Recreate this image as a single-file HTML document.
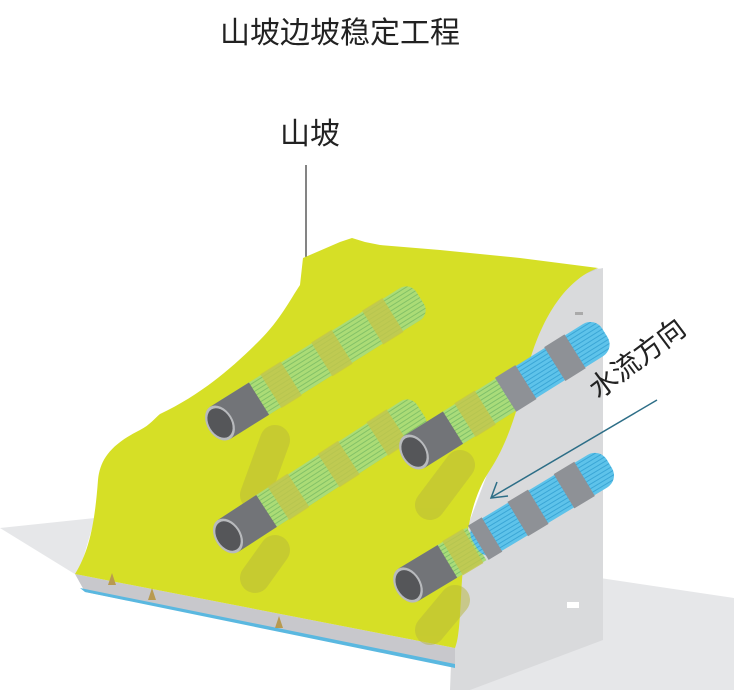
<!DOCTYPE html>
<html><head><meta charset="utf-8"><style>
html,body{margin:0;padding:0;background:#fff;}
svg{display:block;}
text{font-family:"Liberation Sans","Noto Sans CJK SC",sans-serif;}
</style></head><body>
<svg width="734" height="690" viewBox="0 0 734 690" xmlns="http://www.w3.org/2000/svg">
<defs>
<pattern id="gs" width="6" height="4" patternUnits="userSpaceOnUse">
<rect width="6" height="4" fill="#a9dc7a"/><rect y="3" width="6" height="1" fill="#7fc06a"/></pattern>
<pattern id="bs" width="6" height="4" patternUnits="userSpaceOnUse">
<rect width="6" height="4" fill="#5ec3ea"/><rect y="3" width="6" height="1" fill="#3aa6d6"/></pattern>
</defs>
<text x="340" y="43" font-size="30" text-anchor="middle" fill="#222">山坡边坡稳定工程</text>
<text x="310" y="144" font-size="30" text-anchor="middle" fill="#222">山坡</text>
<line x1="306" y1="165" x2="306" y2="258" stroke="#333" stroke-width="1.2"/>
<!-- floors -->
<polygon points="0,528 95,518 78,576" fill="#e6e7e9"/>
<polygon points="600,578 734,598 734,690 470,690" fill="#e6e7e9"/>
<!-- wall -->
<polygon points="555,278 603,268 603,640 470,690 450,690 455,560 500,440 525,340" fill="#d9dadc"/>
<polygon points="540,290 560,278 600,268 575,278" fill="#c8c9cb"/>
<!-- base strip -->
<polygon points="75,574 455,648 455,666 85,592" fill="#c8c8cc"/>
<polygon points="80,588 455,664 455,668 85,592" fill="#5ab8e0"/>
<!-- green slope -->
<path d="M303,258 L340,242 L352,238 L365,242 L380,245 L440,250 L520,258 L598,268 C570,278 545,310 530,360 C520,400 510,440 490,470 C470,500 465,540 462,580 C460,610 460,635 455,648 L75,574 C90,550 95,520 98,480 C100,460 110,445 140,430 C150,425 155,418 160,414 C200,395 230,370 260,340 C280,320 290,300 300,285 Z" fill="#d6df26"/>
<!-- shadows -->
<g stroke="#b8b83a" stroke-width="30" stroke-linecap="round" opacity="0.5" fill="none">
<line x1="275" y1="440" x2="255" y2="495"/>
<line x1="460" y1="465" x2="430" y2="505"/>
<line x1="275" y1="550" x2="255" y2="578"/>
<line x1="455" y1="600" x2="430" y2="630"/>
</g>
<!-- pipe 1 -->
<g transform="translate(220,423) rotate(-32)">
<rect x="0" y="-19" width="236" height="38" rx="12" fill="url(#gs)" opacity="0.95"/>
<rect x="60" y="-20" width="24" height="40" fill="#c4c64a" opacity="0.8"/>
<rect x="120" y="-20" width="24" height="40" fill="#c4c64a" opacity="0.8"/>
<rect x="180" y="-20" width="24" height="40" fill="#c4c64a" opacity="0.8"/>
<rect x="0" y="-19" width="46" height="38" fill="#727478"/>
<ellipse cx="0" cy="0" rx="13" ry="19" fill="#b8babd"/>
<ellipse cx="0" cy="0" rx="11" ry="16" fill="#555659"/>
</g>
<!-- pipe 3 -->
<g transform="translate(228,536) rotate(-33)">
<rect x="0" y="-19" width="230" height="38" rx="12" fill="url(#gs)" opacity="0.95"/>
<rect x="60" y="-20" width="24" height="40" fill="#c4c64a" opacity="0.8"/>
<rect x="120" y="-20" width="24" height="40" fill="#c4c64a" opacity="0.8"/>
<rect x="178" y="-20" width="24" height="40" fill="#c4c64a" opacity="0.8"/>
<rect x="0" y="-19" width="46" height="38" fill="#727478"/>
<ellipse cx="0" cy="0" rx="13" ry="19" fill="#b8babd"/>
<ellipse cx="0" cy="0" rx="11" ry="16" fill="#555659"/>
</g>
<!-- pipe 2 -->
<g transform="translate(414,452) rotate(-32)">
<rect x="0" y="-19" width="112" height="38" fill="url(#gs)"/>
<rect x="108" y="-19" width="117" height="38" rx="14" fill="url(#bs)"/>
<rect x="60" y="-20" width="24" height="40" fill="#c4c64a" opacity="0.8"/>
<rect x="108" y="-20" width="24" height="40" fill="#8e9196"/>
<rect x="166" y="-20" width="24" height="40" fill="#8e9196"/>
<rect x="0" y="-19" width="46" height="38" fill="#727478"/>
<ellipse cx="0" cy="0" rx="13" ry="19" fill="#b8babd"/>
<ellipse cx="0" cy="0" rx="11" ry="16" fill="#555659"/>
</g>
<!-- pipe 4 -->
<g transform="translate(408,585) rotate(-31)">
<rect x="0" y="-19" width="80" height="38" fill="url(#gs)"/>
<rect x="78" y="-19" width="157" height="38" rx="14" fill="url(#bs)"/>
<rect x="52" y="-20" width="24" height="40" fill="#c4c64a" opacity="0.8"/>
<rect x="82" y="-20" width="16" height="40" fill="#8e9196"/>
<rect x="128" y="-20" width="24" height="40" fill="#8e9196"/>
<rect x="182" y="-20" width="24" height="40" fill="#8e9196"/>
<rect x="0" y="-19" width="46" height="38" fill="#727478"/>
<ellipse cx="0" cy="0" rx="13" ry="19" fill="#b8babd"/>
<ellipse cx="0" cy="0" rx="11" ry="16" fill="#555659"/>
</g>
<!-- wall details -->
<rect x="567" y="602" width="12" height="6" fill="#fff"/>
<rect x="575" y="312" width="8" height="3" fill="#aaa"/>
<!-- plants -->
<g fill="#b89a50"><path d="M108,585 l4,-12 l4,12 z"/><path d="M148,600 l4,-12 l4,12 z"/><path d="M275,628 l4,-12 l4,12 z"/></g>
<!-- arrow -->
<line x1="657" y1="400" x2="492" y2="497" stroke="#2d6e87" stroke-width="1.5"/>
<polyline points="497,482 491,498 508,496" fill="none" stroke="#2d6e87" stroke-width="1.5"/>
<text transform="translate(643,366) rotate(-37)" font-size="28" text-anchor="middle" fill="#222">水流方向</text>
</svg>
</body></html>
